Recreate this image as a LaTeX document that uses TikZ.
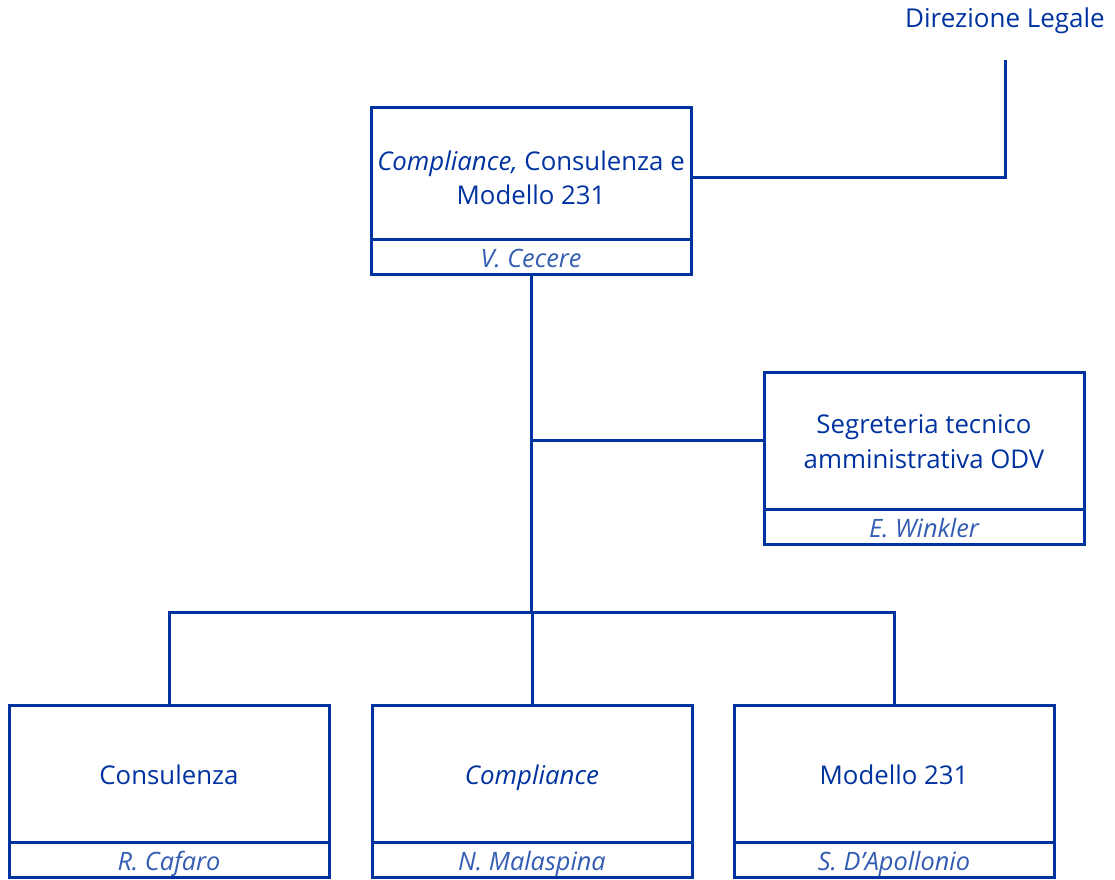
\documentclass[tikz,border=0pt]{standalone}
\usepackage{fontspec}
\setmainfont{Open Sans}
\usepackage{xcolor}
\usetikzlibrary{positioning}

\definecolor{orgblue}{RGB}{0,51,160}

\begin{document}
\begin{tikzpicture}[
    x=1pt, y=-1pt,
    line width=3pt, draw=orgblue,
    unit/.style={rectangle, draw=orgblue, outer sep=0pt, minimum width=320pt, minimum height=137pt, align=center, text=orgblue, font=\fontsize{25.8}{34.5}\selectfont},
    single/.style={unit, text height=21pt, text depth=0pt},
    person/.style={rectangle, draw=orgblue, outer sep=0pt, minimum width=320pt, minimum height=35pt, inner sep=0pt, text height=21pt, text depth=0pt, text=orgblue!80, font=\fontsize{25.3}{28}\selectfont\itshape},
    link/.style={draw=orgblue, line width=3pt},
]
\useasboundingbox (0,0) rectangle (1115,879);

% Nodes
\node[text=orgblue, font=\fontsize{26}{30}\selectfont] (dir) at (1005,21) {Direzione Legale};
\coordinate (dirend) at (1005,60);

\node[unit, minimum height=132pt] (ccm) at (531,173) {\rule{0pt}{29.5pt}\textit{Compliance,} Consulenza e\\Modello 231};
\node[person, below=0pt of ccm] (cecere) {V. Cecere};

\node[unit] (odv) at (924,440.5) {\rule{0pt}{21.5pt}Segreteria tecnico\\amministrativa ODV};
\node[person, below=0pt of odv] (winkler) {E. Winkler};

\node[single] (compl) at (532,773.5) {\textit{Compliance}};
\node[person, below=0pt of compl] (malaspina) {N. Malaspina};
\node[single, left=43pt of compl] (cons) {Consulenza};
\node[person, below=0pt of cons] (cafaro) {R. Cafaro};
\node[single, right=42pt of compl] (mod) {Modello 231};
\node[person, below=0pt of mod] (dapollonio) {S. D'Apollonio};

\coordinate (bus) at (531,612);

% Connectors
\draw[link] (dirend) |- ([yshift=-4pt]ccm.east);
\draw[link] (cecere.south) -- (bus);
\draw[link] (odv.west) -- (odv.west -| bus);
\draw[link] (cons.north) |- (bus) -| (mod.north);
\draw[link] (bus) -- (bus -| compl.north) -- (compl.north);

\end{tikzpicture}
\end{document}
